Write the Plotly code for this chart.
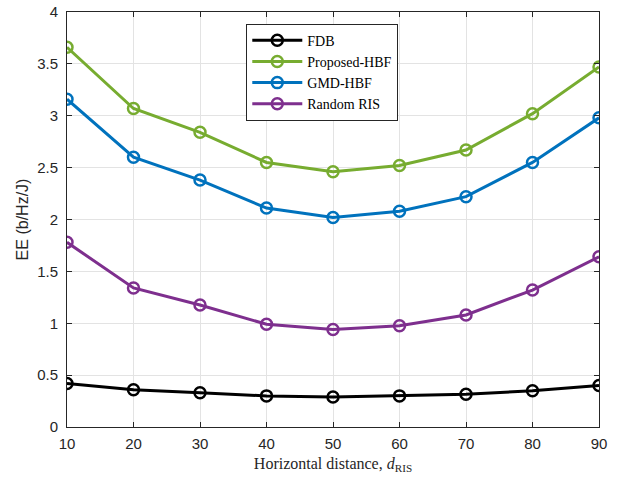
import plotly.graph_objects as go

x = [10, 20, 30, 40, 50, 60, 70, 80, 90]
fdb = [0.42, 0.36, 0.33, 0.30, 0.29, 0.30, 0.315, 0.35, 0.40]
proposed = [3.66, 3.07, 2.84, 2.55, 2.46, 2.52, 2.67, 3.02, 3.47]
gmd = [3.16, 2.60, 2.38, 2.11, 2.02, 2.08, 2.22, 2.55, 2.98]
random_ris = [1.78, 1.34, 1.176, 0.99, 0.94, 0.975, 1.08, 1.32, 1.64]

series = [
    ("FDB", fdb, "#000000"),
    ("Proposed-HBF", proposed, "#77AC30"),
    ("GMD-HBF", gmd, "#0072BD"),
    ("Random RIS", random_ris, "#7E2F8E"),
]

fig = go.Figure()
for name, y, c in series:
    fig.add_trace(go.Scatter(
        x=x, y=y, name=name, mode="lines+markers",
        line=dict(color=c, width=3),
        marker=dict(symbol="circle-open", size=11, color=c, line=dict(width=2.5, color=c)),
    ))

axis_common = dict(
    showline=True, mirror="ticks", linecolor="#262626", linewidth=1,
    ticks="inside", ticklen=5, tickcolor="#262626",
    showgrid=True, gridcolor="#e3e3e3", gridwidth=1, zeroline=False,
    automargin=False,
    tickfont=dict(family="Liberation Sans, Arial", size=15, color="#262626"),
)

fig.update_layout(
    width=617, height=479,
    margin=dict(l=67, r=18, t=12, b=52),
    paper_bgcolor="white", plot_bgcolor="white",
    showlegend=True,
    legend=dict(
        x=0.337, y=0.972, xanchor="left", yanchor="top",
        bgcolor="white", bordercolor="#262626", borderwidth=1,
        font=dict(family="Liberation Serif, Times New Roman", size=14, color="#000"),
        tracegroupgap=0, itemwidth=50,
    ),
    xaxis=dict(range=[10, 90], tickvals=x, ticklabelstandoff=3, title=dict(
        text="Horizontal distance, <i>d</i><sub>RIS</sub>",
        font=dict(family="Liberation Serif, Times New Roman", size=16, color="#262626"),
        standoff=6), **axis_common),
    yaxis=dict(range=[0, 4], tickvals=[0, 0.5, 1, 1.5, 2, 2.5, 3, 3.5, 4],
               ticktext=["0", "0.5", "1", "1.5", "2", "2.5", "3", "3.5", "4"],
               ticklabelstandoff=5,
               title=dict(text="EE (b/Hz/J)",
                          font=dict(family="Liberation Sans, Arial", size=16, color="#262626"),
                          standoff=4), **axis_common),
)

fig.write_html("out.html")
